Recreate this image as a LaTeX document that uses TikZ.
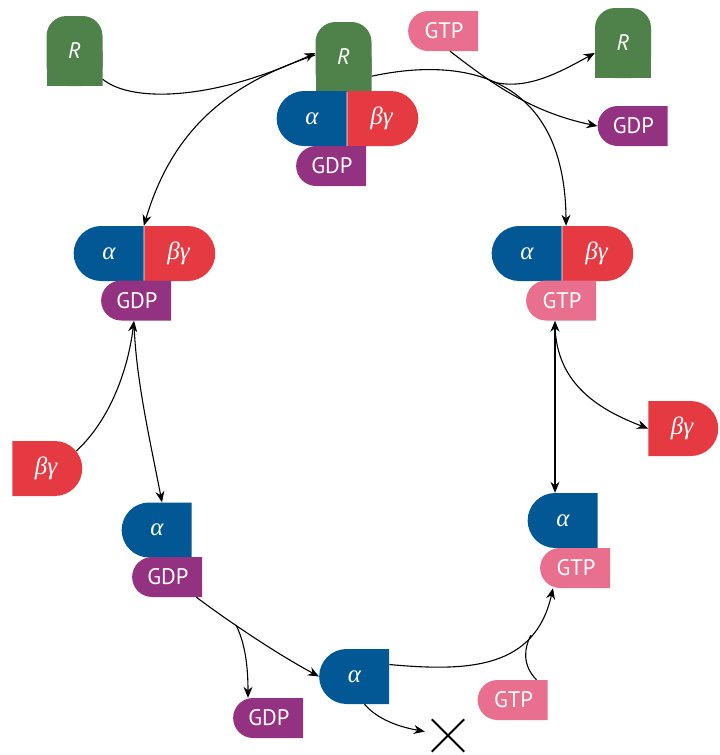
\documentclass[tikz,border=0pt]{standalone}
\usepackage{fontspec}
\setmainfont{PT Sans}
\newfontfamily\gkfont{Liberation Serif}
\usetikzlibrary{arrows.meta,shapes.misc}

\definecolor{recgreen}{RGB}{78,130,74}
\definecolor{alphablue}{RGB}{2,88,148}
\definecolor{bgred}{RGB}{230,58,66}
\definecolor{gdppurple}{RGB}{148,50,130}
\definecolor{gtppink}{RGB}{232,112,142}

\newcommand{\gk}[1]{{\gkfont\itshape\fontsize{25}{28}\selectfont #1}}

\begin{document}
\begin{tikzpicture}[x=1pt, y=-1pt,
		lbl/.style={text=white, font=\fontsize{22.5}{26}\selectfont, inner sep=0pt},
		rcpt/.style={lbl, minimum width=56pt, minimum height=70pt,
			path picture={
				\fill[recgreen, rounded corners=20pt] (path picture bounding box.south west) rectangle (path picture bounding box.north east);
				\fill[recgreen] (path picture bounding box.south west) rectangle (path picture bounding box.east);}},
		part/.style={lbl, rounded rectangle, minimum width=70pt},
		alph/.style={part, fill=alphablue, minimum height=55pt, rounded rectangle east arc=none},
		bgam/.style={part, fill=bgred, minimum height=55pt, rounded rectangle west arc=none},
		nucl/.style={part, minimum height=40pt, rounded rectangle east arc=none},
		gdp/.style={nucl, fill=gdppurple},
		gtp/.style={nucl, fill=gtppink},
		arr/.style={line width=1.1pt, -{Stealth[length=11pt, width=9pt]}}]
		
		\useasboundingbox (0,0) rectangle (720,755);
		
		% receptors
		\node[rcpt] (rin) at (74.5,51) {\textit{R}};
		\node[rcpt] (rmid) at (343.5,57) {\textit{R}};
		\node[rcpt] (rout) at (623,43) {\textit{R}};
		
		% top
		\node[alph] (a0) at (312,118.5) {\gk{α}};
		\node[bgam, minimum width=71pt] (bg0) at (381.5,118.5) {\gk{βγ}};
		\node[gdp] (gdp0) at (332,166) {GDP};
		\node[gtp] (gtpin) at (444,31) {GTP};
		\node[gdp] (gdpout) at (633.5,126) {GDP};
		
		% left
		\node[alph] (a1) at (109,253.5) {\gk{α}};
		\node[bgam, minimum width=71pt] (bg1) at (178.5,253.5) {\gk{βγ}};
		\node[gdp] (gdp1) at (137,300.5) {GDP};
		\node[bgam] (bgl) at (46,468.5) {\gk{βγ}};
		
		% right
		\node[alph] (a2) at (527,253.5) {\gk{α}};
		\node[bgam, minimum width=71pt] (bg2) at (596.5,253.5) {\gk{βγ}};
		\node[gtp] (gtp2) at (562,300.5) {GTP};
		\node[bgam] (bgr) at (682,428.5) {\gk{βγ}};
		
		% bottom
		\node[alph] (a3) at (157,530) {\gk{α}};
		\node[gdp] (gdp3) at (168,577) {GDP};
		\node[alph] (a4) at (354.5,676.5) {\gk{α}};
		\node[gdp] (gdp4) at (269,718) {GDP};
		\node[gtp] (gtp4) at (513.5,700) {GTP};
		\node[alph] (a5) at (563,520.5) {\gk{α}};
		\node[gtp] (gtp5) at (576,568) {GTP};
		\node[minimum size=32pt, inner sep=0pt] (xx) at (448,735.5) {};
		\draw[line width=2pt] (xx.north west) -- (xx.south east) (xx.south west) -- (xx.north east);
		
		\coordinate (rel) at (490,81);
		\coordinate (dg) at (236,625);
		\coordinate (gj) at (531,635);
		
		\draw[arr] ([yshift=7pt]rin.south east) .. controls (130,102) and (210,102) .. ([yshift=4pt]rmid.west);
		\draw[arr] ([yshift=2pt]rmid.west) .. controls (240,80) and (175,120) .. (a1.north east);
		\draw[arr] ([yshift=16pt]rmid.south east) .. controls (470,55) and (565,80) .. ([xshift=4pt]bg2.north west);
		\draw[arr] (rel) .. controls (525,92) and (560,72) .. ([yshift=-10pt]rout.west);
		\draw[arr] ([xshift=6pt]gtpin.south) .. controls (490,82) and (530,112) .. (gdpout.west);
		
		\draw[arr] (bgl.30) .. controls (110,420) and (128,370) .. ([xshift=-3pt]gdp1.south);
		\draw[arr] ([xshift=-3pt,yshift=-3pt]gdp1.south) .. controls (136,380) and (150,440) .. ([xshift=5pt]a3.north);
		
		\draw[arr] ([xshift=-6pt]gdp3.south east) .. controls (220,615) and (270,650) .. (a4.west);
		\draw[arr] (dg) .. controls (246,645) and (248,670) .. ([xshift=-21pt]gdp4.north);
		\draw[arr] ([yshift=12pt]a4.east) .. controls (470,672) and (535,668) .. ([xshift=-23pt]gtp5.south);
		\draw[line width=1.1pt] ([xshift=23pt]gtp4.north) .. controls (522,665) and (524,648) .. (gj);
		\draw[arr] ([xshift=10pt]a4.south) .. controls (378,720) and (400,727) .. ([xshift=-7pt,yshift=4pt]xx.west);
		
		\draw[line width=1.1pt, {Stealth[length=11pt, width=9pt]}-{Stealth[length=11pt, width=9pt]}] ([xshift=-7pt]gtp2.south) -- ([xshift=-8pt]a5.north);
		\draw[arr] ([xshift=-7pt,yshift=-6pt]gtp2.south) .. controls (557,385) and (600,410) .. (bgr.west);
	\end{tikzpicture}
\end{document}
